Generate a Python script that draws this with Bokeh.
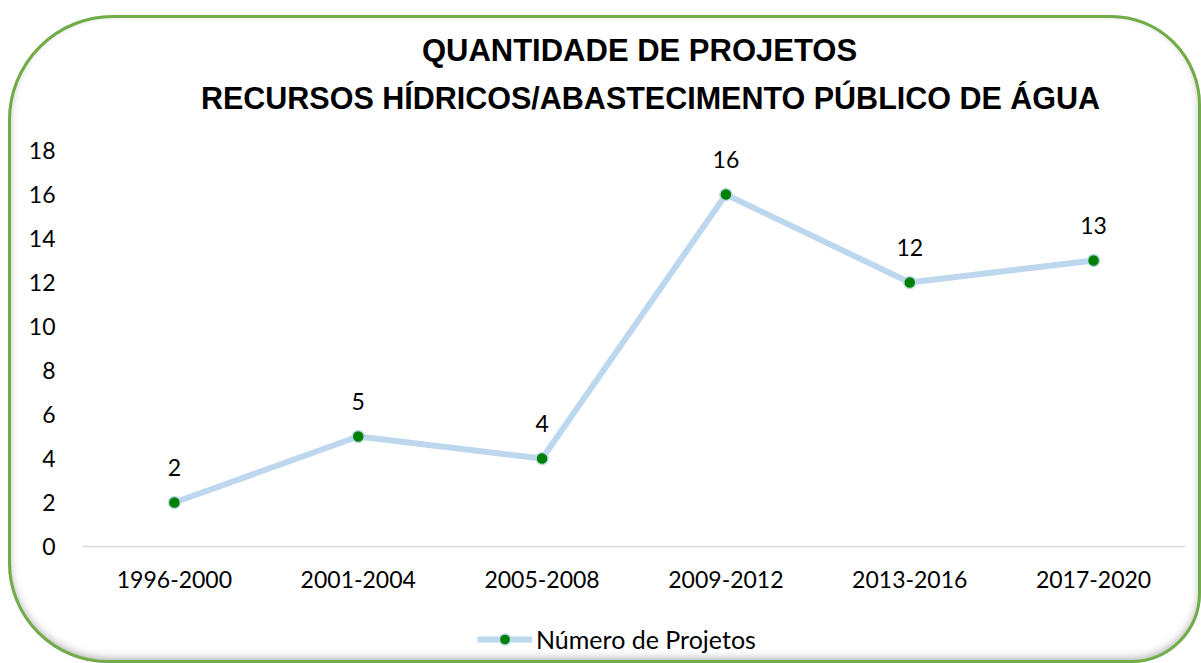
from bokeh.plotting import figure
from bokeh.models import (ColumnDataSource, Range1d, FixedTicker, LabelSet, Label, Legend,
                          LegendItem, Span)
from bokeh.core.properties import value
from bokeh.embed import file_html
from bokeh.resources import INLINE

# ---- data ----
periodos = ["1996-2000", "2001-2004", "2005-2008", "2009-2012", "2013-2016", "2017-2020"]
projetos = [2, 5, 4, 16, 12, 13]
y_ticks = [0, 2, 4, 6, 8, 10, 12, 14, 16, 18]
serie_nome = "Número de Projetos"
titulo_1 = "QUANTIDADE DE PROJETOS"
titulo_2 = "RECURSOS HÍDRICOS/ABASTECIMENTO PÚBLICO DE ÁGUA"

src = ColumnDataSource(dict(x=periodos, y=projetos, label=[str(v) for v in projetos]))
cat_src = ColumnDataSource(dict(x=periodos, y=[0] * len(periodos), label=periodos))

FONT = "Lato"
PX_PER_UNIT = 22.0          # vertical scale of the value axis (px per project)
SPACE_BELOW = 117           # room under the zero line for category labels + legend
SPACE_ABOVE = 135           # room above 18 for the title

p = figure(x_range=periodos,
           y_range=Range1d(-SPACE_BELOW / PX_PER_UNIT, 18 + SPACE_ABOVE / PX_PER_UNIT),
           width=1193, height=648,
           output_backend="svg", toolbar_location=None, title=None,
           min_border_left=74, min_border_right=16, min_border_top=0,
           min_border_bottom=0)
p.margin = (15, 0, 0, 8)
p.x_range.range_padding = 0
p.background_fill_color = None
p.border_fill_color = None
p.outline_line_color = None
p.styles = {
    "outline": "3px solid #70AD47",
    "outline-offset": "-3px",
    "border-radius": "105px 90px 70px 100px",
    "box-shadow": "inset 0 -3px 10px 1px rgba(0,0,0,0.35)",
}

# title (two lines)
p.add_layout(Label(x=557, y=613, x_units="screen", y_units="screen", text=titulo_1,
                   text_align="center", text_baseline="middle",
                   text_font="Liberation Sans", text_font_style="bold",
                   text_font_size="31px", text_color="#000000"))
p.add_layout(Label(x=568, y=566, x_units="screen", y_units="screen", text=titulo_2,
                   text_align="center", text_baseline="middle",
                   text_font="Liberation Sans", text_font_style="bold",
                   text_font_size="30.5px", text_color="#000000"))

# axes
p.xgrid.grid_line_color = None
p.ygrid.grid_line_color = None
p.xaxis.visible = False
p.yaxis.ticker = FixedTicker(ticks=y_ticks)
p.yaxis.axis_line_color = None
p.yaxis.major_tick_line_color = None
p.yaxis.minor_tick_line_color = None
p.yaxis.major_tick_out = 0
p.yaxis.major_tick_in = 0
p.yaxis.major_label_standoff = 27
p.yaxis.major_label_text_font = FONT
p.yaxis.major_label_text_font_size = "23px"
p.yaxis.major_label_text_color = "#000000"

# zero line (category axis line)
p.add_layout(Span(location=0, dimension="width", line_color="#D9D9D9", line_width=1.5))

# category labels
p.add_layout(LabelSet(x="x", y="y", text="label", source=cat_src, y_offset=-33,
                      text_align="center", text_baseline="middle",
                      text_font=value(FONT), text_font_size=value("23px"),
                      text_color="#000000"))

# series
r_line = p.line(x="x", y="y", source=src, line_color="#BDD7EE", line_width=6)
r_pts = p.scatter(x="x", y="y", source=src, size=12, fill_color="#008000",
                  line_color="#BDD7EE", line_width=1.5)

p.add_layout(LabelSet(x="x", y="y", text="label", source=src, y_offset=35,
                      text_align="center", text_baseline="middle",
                      text_font=value(FONT), text_font_size=value("23px"),
                      text_color="#000000"))

legend = Legend(items=[LegendItem(label=serie_nome, renderers=[r_line, r_pts])],
                orientation="horizontal", location=(395, 9),
                glyph_width=55, glyph_height=28, label_standoff=4,
                label_text_font=FONT, label_text_font_size="25px",
                label_text_color="#000000",
                border_line_color=None, background_fill_alpha=0,
                margin=0, padding=4)
p.add_layout(legend, "center")

open("out.html", "w").write(file_html(p, INLINE))
